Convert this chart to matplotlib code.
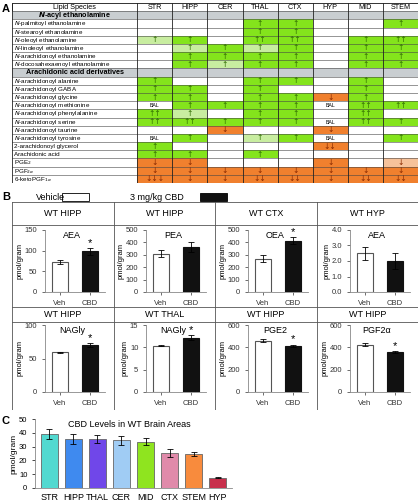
import matplotlib
matplotlib.use("Agg")
import matplotlib.pyplot as plt
from matplotlib.patches import Rectangle

W, H = 420, 501
fig = plt.figure(figsize=(4.2, 5.01), dpi=100)
plt.rcParams['font.family'] = ['Liberation Sans', 'DejaVu Sans']

def fa(x0, y0, x1, y1):
    return [x0 / W, 1 - y1 / H, (x1 - x0) / W, (y1 - y0) / H]

# ---------------- Panel A data ----------------
regions = ["STR", "HIPP", "CER", "THAL", "CTX", "HYP", "MID", "STEM"]
rows = [
    ("HDR", "$\\mathbfit{N}$-acyl ethanolamine", None),
    ("", "$\\it{N}$-palmitoyl ethanolamine", ["", "", "", "u", "u", "", "", "u"]),
    ("", "$\\it{N}$-stearoyl ethanolamine", ["", "", "", "u", "u", "", "", ""]),
    ("", "$\\it{N}$-oleoyl ethanolamine", ["lu", "u", "", "uu", "uu", "", "u", "uu"]),
    ("", "$\\it{N}$-linoleoyl ethanolamine", ["", "lu", "u", "lu", "u", "", "u", "u"]),
    ("", "$\\it{N}$-arachidonoyl ethanolamine", ["", "u", "u", "u", "u", "", "u", "u"]),
    ("", "$\\it{N}$-docosahexaenoyl ethanolamine", ["", "u", "lu", "u", "u", "", "u", "u"]),
    ("HDR", "Arachidonic acid derivatives", None),
    ("", "$\\it{N}$-arachidonoyl alanine", ["u", "", "", "u", "u", "", "u", ""]),
    ("", "$\\it{N}$-arachidonoyl GABA", ["u", "u", "", "u", "", "", "u", ""]),
    ("", "$\\it{N}$-arachidonoyl glycine", ["u", "u", "", "u", "u", "d", "u", ""]),
    ("", "$\\it{N}$-arachidonoyl methionine", ["BAL", "u", "u", "u", "u", "BAL", "uu", "uu"]),
    ("", "$\\it{N}$-arachidonoyl phenylalanine", ["uu", "lu", "", "u", "u", "", "uu", ""]),
    ("", "$\\it{N}$-arachidonoyl serine", ["uu", "uu", "u", "u", "u", "BAL", "uu", "u"]),
    ("", "$\\it{N}$-arachidonoyl taurine", ["", "", "d", "", "", "d", "", ""]),
    ("", "$\\it{N}$-arachidonoyl tyrosine", ["BAL", "u", "", "lu", "u", "BAL", "", "u"]),
    ("", "2-arachidonoyl glycerol", ["u", "", "", "", "", "dd", "", ""]),
    ("", "Arachidonic acid", ["u", "u", "", "u", "", "", "", ""]),
    ("", "PGE$_2$", ["d", "d", "", "", "", "d", "", "ld"]),
    ("", "PGF$_{2\\alpha}$", ["d", "d", "d", "d", "d", "d", "d", "d"]),
    ("", "6-ketoPGF$_{1\\alpha}$", ["ddd", "d", "d", "dd", "dd", "d", "dd", "dd"]),
]
cell_col = {"": "white", "BAL": "white", "u": "#84e41c", "uu": "#84e41c", "uuu": "#84e41c",
            "lu": "#c8eda0", "d": "#f0802e", "dd": "#f0802e", "ddd": "#f0802e", "ld": "#f6c29a"}
arrow = {"u": "↑", "uu": "↑↑", "uuu": "↑↑↑", "lu": "↑", "d": "↓", "dd": "↓↓", "ddd": "↓↓↓",
         "ld": "↓", "BAL": "BAL", "": ""}

axA = fig.add_axes(fa(12, 3, 418, 183))
LW = 3.57
n = len(rows) + 1
axA.set_xlim(0, LW + 8)
axA.set_ylim(n, 0)
axA.axis("off")
axA.add_patch(Rectangle((0, 0), LW + 8, 1, fc="white", ec="k", lw=0.6))
axA.text(LW / 2, 0.5, "Lipid Species", ha="center", va="center", fontsize=5.2)
for j, r in enumerate(regions):
    axA.text(LW + j + 0.5, 0.5, r, ha="center", va="center", fontsize=5.2)
for i, (kind, label, vals) in enumerate(rows):
    y = i + 1
    if kind == "HDR":
        axA.add_patch(Rectangle((0, y), LW + 8, 1, fc="#c9ced1", ec="none"))
        axA.text(LW / 2, y + 0.5, label, ha="center", va="center", fontsize=5.2,
                 fontweight="bold")
        continue
    axA.text(0.05, y + 0.55, label, ha="left", va="center", fontsize=4.5)
    for j, v in enumerate(vals):
        axA.add_patch(Rectangle((LW + j, y), 1, 1, fc=cell_col[v], ec="none"))
        tc = "#2f6d00" if v.endswith("u") else ("#8a2a00" if v.endswith("d") else "k")
        if v == "BAL":
            axA.text(LW + j + 0.5, y + 0.55, "BAL", ha="center", va="center", fontsize=3.8)
        elif v:
            axA.text(LW + j + 0.5, y + 0.5, arrow[v], ha="center", va="center",
                     fontsize=5.5, color=tc, family="DejaVu Sans")
for y in range(n + 1):
    axA.plot([0, LW + 8], [y, y], color="#444444", lw=0.4)
for x in [0, LW] + [LW + j for j in range(1, 9)]:
    axA.plot([x, x], [0, n], color="#222222", lw=0.6)
fig.text(2 / W, 1 - 9 / H, "A", fontsize=8, fontweight="bold", va="center")

# ---------------- Panel B ----------------
fig.text(2 / W, 1 - 197 / H, "B", fontsize=8, fontweight="bold", va="center")
fig.text(36 / W, 1 - 197 / H, "Vehicle", fontsize=6.5, va="center")
fig.patches.append(Rectangle((62 / W, 1 - 201 / H), 27 / W, 8 / H, fc="white", ec="k",
                             lw=0.6, transform=fig.transFigure))
fig.text(130 / W, 1 - 197 / H, "3 mg/kg CBD", fontsize=6.5, va="center")
fig.patches.append(Rectangle((200 / W, 1 - 201 / H), 27 / W, 8 / H, fc="#111111", ec="k",
                             lw=0.6, transform=fig.transFigure))

panel_titles = ["WT HIPP", "WT HIPP", "WT CTX", "WT HYP", "WT HIPP", "WT THAL", "WT HIPP", "WT HIPP"]
analytes = ["AEA", "PEA", "OEA", "AEA", "NAGly", "NAGly", "PGE2", "PGF2α"]
veh_mean = [73, 310, 270, 2.5, 59, 10.4, 460, 425]
veh_err = [5, 30, 25, 0.42, 1, 0.2, 15, 10]
cbd_mean = [98, 360, 415, 2.0, 70, 12.2, 415, 360]
cbd_err = [9, 40, 25, 0.5, 3, 0.6, 10, 8]
sig = [True, False, True, False, True, True, True, True]
ymax = [150, 500, 500, 4.0, 100, 15, 600, 600]
ytick_step = [50, 100, 100, 1.0, 50, 5, 200, 200]

box = fig.add_axes(fa(12, 202, 418, 410))
box.set_xlim(0, 4); box.set_ylim(208, 0); box.axis("off")
for (a, b) in [(0, 23), (105, 120)]:
    box.plot([0, 4], [a, a], color="#555555", lw=0.6)
    box.plot([0, 4], [b, b], color="#555555", lw=0.6)
box.plot([0, 4], [208, 208], color="#555555", lw=0.6)
for x in range(5):
    box.plot([x, x], [0, 208], color="#555555", lw=0.6)
for k in range(8):
    c, r = k % 4, k // 4
    box.text(c + 0.5, 11.5 if r == 0 else 112.5, panel_titles[k], ha="center", va="center", fontsize=6.5)

cells_x = [12, 113, 215, 317]
rows_y = [(230, 292), (325, 392)]
for k in range(8):
    c, r = k % 4, k // 4
    x0 = cells_x[c] + 33
    ax = fig.add_axes(fa(x0, rows_y[r][0], x0 + 60, rows_y[r][1]))
    ax.bar([0, 1], [veh_mean[k], cbd_mean[k]], width=0.55, color=["white", "#111111"],
           edgecolor=["#555555", "#111111"], linewidth=0.8,
           yerr=[veh_err[k], cbd_err[k]], capsize=2, error_kw=dict(lw=0.6, capthick=0.6))
    ax.set_xlim(-0.5, 1.5)
    ax.set_ylim(0, ymax[k])
    step = ytick_step[k]
    ticks = [i * step for i in range(int(round(ymax[k] / step)) + 1)]
    ax.set_yticks(ticks)
    if isinstance(step, float):
        ax.set_yticklabels([f"{t:.1f}" for t in ticks])
    ax.set_xticks([0, 1]); ax.set_xticklabels(["Veh", "CBD"])
    ax.tick_params(labelsize=5.5, length=2, width=0.5, colors="#333333")
    for s in ["top", "right"]:
        ax.spines[s].set_visible(False)
    for s in ["left", "bottom"]:
        ax.spines[s].set_color("#888888"); ax.spines[s].set_linewidth(0.6)
    ax.set_ylabel("pmol/gram", fontsize=5.5, labelpad=1)
    ax.text(0.45, 0.98, analytes[k], transform=ax.transAxes, ha="center", va="top", fontsize=6.5)
    if sig[k]:
        ax.text(1, cbd_mean[k] + cbd_err[k], "*", ha="center", va="bottom", fontsize=8)

# ---------------- Panel C ----------------
c_regions = ["STR", "HIPP", "THAL", "CER", "MID", "CTX", "STEM", "HYP"]
c_mean = [39, 35.5, 35.5, 34.5, 33.5, 25.5, 24.5, 7.5]
c_err = [3.5, 3.5, 3.2, 3.0, 2.5, 3.0, 1.5, 0.5]
c_colors = ["#52d9d0", "#3f8aef", "#7047e9", "#a0ccf4", "#8fe41f", "#e08aaa", "#f88b3d", "#c8304c"]
fig.text(2 / W, 1 - 421 / H, "C", fontsize=8, fontweight="bold", va="center")
axC = fig.add_axes(fa(35, 419, 232, 488))
axC.bar(range(8), c_mean, width=0.68, color=c_colors, edgecolor="#666666", linewidth=0.6,
        yerr=c_err, capsize=2, error_kw=dict(lw=0.6, capthick=0.6))
axC.set_xlim(-0.6, 7.6); axC.set_ylim(0, 50)
axC.set_yticks(range(0, 51, 10))
axC.set_xticks(range(8)); axC.set_xticklabels(c_regions)
axC.tick_params(axis="y", labelsize=5.5, length=2, width=0.5)
axC.tick_params(axis="x", labelsize=6.5, length=0)
for s in ["top", "right"]:
    axC.spines[s].set_visible(False)
for s in ["left", "bottom"]:
    axC.spines[s].set_color("#888888"); axC.spines[s].set_linewidth(0.6)
axC.set_ylabel("pmol/gram", fontsize=6, labelpad=1)
axC.text(0.48, 0.99, "CBD Levels in WT Brain Areas", transform=axC.transAxes, ha="center",
         va="top", fontsize=6.5)

fig.savefig("out.png", dpi=100)
